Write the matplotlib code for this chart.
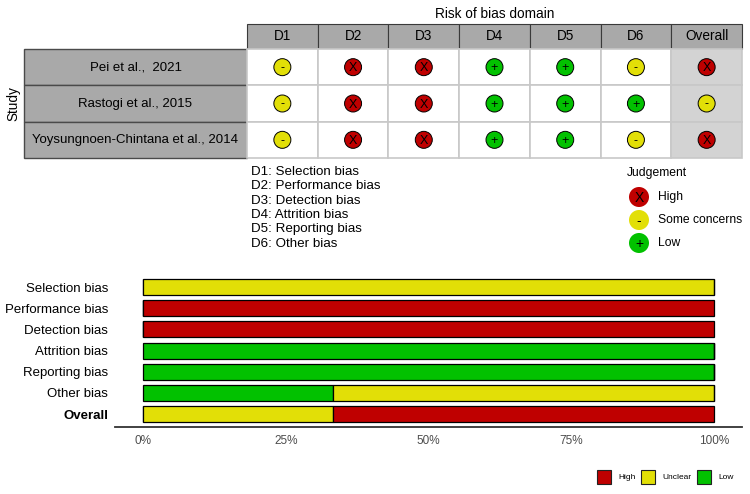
import numpy as np
import matplotlib
matplotlib.use("Agg")
import matplotlib.pyplot as plt
from matplotlib.patches import Rectangle, Circle

plt.rcParams['font.family'] = ['Liberation Sans', 'DejaVu Sans']

# ---------------- data ----------------
studies = ["Pei et al.,  2021", "Rastogi et al., 2015", "Yoysungnoen-Chintana et al., 2014"]
domains = ["D1", "D2", "D3", "D4", "D5", "D6", "Overall"]
domain_names = ["Selection bias", "Performance bias", "Detection bias",
                "Attrition bias", "Reporting bias", "Other bias", "Overall"]
# H = high, S = some concerns, L = low
judgements = [
    ["S", "H", "H", "L", "L", "S", "H"],
    ["S", "H", "H", "L", "L", "L", "S"],
    ["S", "H", "H", "L", "L", "S", "H"],
]
levels = ["L", "S", "H"]          # left-to-right order in the summary bars
level_names = {"H": "High", "S": "Some concerns", "L": "Low"}
bar_legend = ["High", "Unclear", "Low"]
x_ticks = [0, 25, 50, 75, 100]

colors = {"H": "#BF0000", "S": "#E2DF07", "L": "#02C100"}
symbols = {"H": "X", "S": "-", "L": "+"}

# ---------------- figure ----------------
fig = plt.figure(figsize=(7.5, 4.94), dpi=100)
ax = fig.add_axes([0, 0, 1, 1])
ax.set_xlim(0, 750)
ax.set_ylim(494, 0)
ax.axis("off")

# layout of the traffic light table (pixels)
grid_l, grid_r = 247, 742
head_t, head_b = 24, 49
rows_b = 158
lab_l = 24
col_w = (grid_r - grid_l) / len(domains)
row_h = (rows_b - head_b) / len(studies)

ax.text((grid_l + grid_r) / 2, 14, "Risk of bias domain", ha="center", va="center", fontsize=9.8)
ax.text(13, head_b + (rows_b - head_b) / 2, "Study", rotation=90, ha="center", va="center", fontsize=9.8)

for j, d in enumerate(domains):
    x0 = grid_l + j * col_w
    ax.add_patch(Rectangle((x0, head_t), col_w, head_b - head_t, facecolor="#A9A9A9",
                           edgecolor="#3A3A3A", lw=0.8))
    ax.text(x0 + col_w / 2, (head_t + head_b) / 2, d, ha="center", va="center", fontsize=9.8)

for i, s in enumerate(studies):
    y0 = head_b + i * row_h
    ax.add_patch(Rectangle((lab_l, y0), grid_l - lab_l, row_h, facecolor="#A9A9A9",
                           edgecolor="#4A4A4A", lw=1.0))
    ax.text((lab_l + grid_l) / 2, y0 + row_h / 2, s, ha="center", va="center", fontsize=9.5)
    for j, d in enumerate(domains):
        x0 = grid_l + j * col_w
        fc = "#D3D3D3" if d == "Overall" else "white"
        ax.add_patch(Rectangle((x0, y0), col_w, row_h, facecolor=fc, edgecolor="#C8C8C8", lw=1.2))
        k = judgements[i][j]
        cx, cy = x0 + col_w / 2, y0 + row_h / 2
        ax.add_patch(Circle((cx, cy), 8.5, facecolor=colors[k], edgecolor="black", lw=0.7, zorder=3))
        ax.text(cx, cy + 1, symbols[k], ha="center", va="center", fontsize=9, zorder=4)

# domain key
for j, name in enumerate(domain_names[:-1]):
    ax.text(251, 172 + j * 14.3, f"{domains[j]}: {name}", ha="left", va="center", fontsize=9.6)

# judgement key
ax.text(627, 173, "Judgement", ha="left", va="center", fontsize=8.7)
for n, k in enumerate(["H", "S", "L"]):
    cy = 197 + n * 23
    ax.add_patch(Circle((639, cy), 10, facecolor=colors[k], edgecolor="none"))
    ax.text(639, cy + 1, symbols[k], ha="center", va="center", fontsize=10)
    ax.text(658, cy, level_names[k], ha="left", va="center", fontsize=8.7)

# ---------------- summary bar plot ----------------
judg = np.array(judgements)
n_st = len(studies)
bx = fig.add_axes([115 / 750, 1 - 427 / 494, (742 - 115) / 750, (427 - 278) / 494])
ypos = np.arange(len(domain_names))
left = np.zeros(len(domain_names))
for k in levels:
    frac = (judg == k).sum(axis=0) / n_st * 100
    bx.barh(ypos, frac, left=left, height=0.75, color=colors[k], edgecolor="black", lw=0.9)
    left += frac

bx.set_xlim(-4.9, 104.9)
bx.set_ylim(6.61, -0.43)
bx.set_yticks(ypos)
bx.set_yticklabels(domain_names, fontsize=9.5)
bx.get_yticklabels()[-1].set_fontweight("bold")
bx.set_xticks(x_ticks)
bx.set_xticklabels([f"{t}%" for t in x_ticks], fontsize=8.5, color="#4D4D4D")
bx.tick_params(axis="y", length=0, pad=5)
bx.tick_params(axis="x", length=0, pad=6)
for sp in ["top", "right", "left"]:
    bx.spines[sp].set_visible(False)
bx.spines["bottom"].set_color("#333333")
bx.spines["bottom"].set_linewidth(1.3)
bx.patch.set_alpha(0)

# bar legend
for n, (lab, k) in enumerate(zip(bar_legend, ["H", "S", "L"])):
    x0 = [597, 641, 697][n]
    ax.add_patch(Rectangle((x0, 470), 14, 14, facecolor=colors[k], edgecolor="#222222", lw=0.8))
    ax.text(x0 + 21, 477, lab, ha="left", va="center", fontsize=6)

fig.savefig("out.png", dpi=100)
